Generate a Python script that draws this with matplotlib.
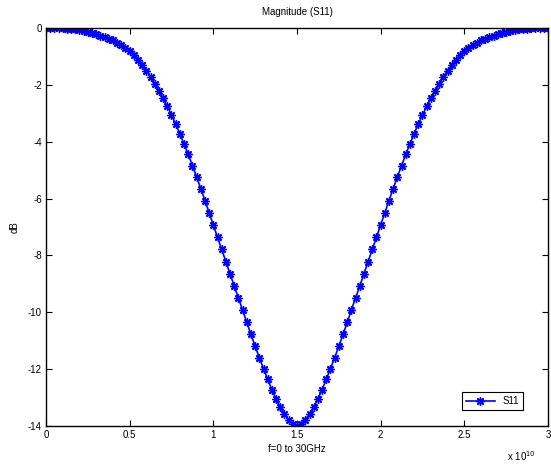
import numpy as np
import matplotlib
matplotlib.use('Agg')
import matplotlib.pyplot as plt

plt.rcParams['font.family'] = ['Liberation Sans', 'DejaVu Sans']

# frekvens i GHz, steg 0.25 GHz
freq_ghz = np.arange(0, 30.001, 0.25)

# S11 i dB, vänstra halvan 0..15 GHz avläst, högra halvan 15..30 GHz
s11_left = [0.00, 0.00, 0.00, -0.01, -0.01, -0.02, -0.03, -0.05, -0.07, -0.10,
            -0.14, -0.18, -0.22, -0.27, -0.32, -0.38, -0.44, -0.52, -0.60, -0.70,
            -0.82, -0.96, -1.12, -1.30, -1.50, -1.72, -1.96, -2.21, -2.48, -2.76,
            -3.06, -3.38, -3.72, -4.08, -4.45, -4.84, -5.24, -5.65, -6.07, -6.50,
            -6.93, -7.36, -7.79, -8.22, -8.65, -9.08, -9.50, -9.92, -10.36, -10.78,
            -11.20, -11.60, -11.98, -12.36, -12.72, -13.05, -13.34, -13.58, -13.78, -13.92,
            -14.00]
s11_right = [-13.92, -13.78, -13.58, -13.34, -13.05, -12.72, -12.36, -11.98, -11.60, -11.20,
             -10.78, -10.36, -9.92, -9.50, -9.08, -8.65, -8.22, -7.79, -7.36, -6.93,
             -6.50, -6.07, -5.65, -5.24, -4.84, -4.45, -4.08, -3.72, -3.38, -3.06,
             -2.76, -2.48, -2.21, -1.96, -1.72, -1.50, -1.30, -1.12, -0.96, -0.82,
             -0.70, -0.60, -0.52, -0.44, -0.38, -0.32, -0.27, -0.22, -0.18, -0.14,
             -0.10, -0.07, -0.05, -0.03, -0.02, -0.01, -0.01, 0.00, 0.00, 0.00]
s11_db = np.array(s11_left + s11_right)

x_ticks = [0, 0.5, 1, 1.5, 2, 2.5, 3]
y_ticks = [0, -2, -4, -6, -8, -10, -12, -14]

fig = plt.figure(figsize=(5.51, 4.65), dpi=100)
ax = fig.add_axes([0.0835, 0.0839, 0.911, 0.856])

# x i enheter av 1e10 Hz
ax.plot(freq_ghz * 1e9 / 1e10, s11_db, color='blue', lw=1.2,
        marker=(8, 2, 0), ms=6, mew=1.0, label='S11')

ax.set_xlim(0, 3)
ax.set_ylim(-14, 0)
ax.set_xticks(x_ticks)
ax.set_xticklabels(['0', '0.5', '1', '1.5', '2', '2.5', '3'])
ax.set_yticks(y_ticks)
ax.set_yticklabels([str(v) for v in y_ticks])
ax.tick_params(direction='in', top=True, right=True, length=4, labelsize=7, pad=3)
for s in ax.spines.values():
    s.set_linewidth(1.0)

ax.set_title('Magnitude (S11)', fontsize=7, pad=9)
ax.set_xlabel('f=0 to 30GHz', fontsize=7, labelpad=3)
ax.set_ylabel('dB', fontsize=7, labelpad=6)
fig.text(0.92, 0.008, r'x 10$^{10}$', fontsize=7)

leg = ax.legend(loc='lower right', bbox_to_anchor=(0.95, 0.04), fontsize=7,
                fancybox=False, framealpha=1, edgecolor='black', handlelength=3.0,
                borderpad=0.4, borderaxespad=0)
leg.get_frame().set_linewidth(0.8)

plt.savefig('out.png', dpi=100)
